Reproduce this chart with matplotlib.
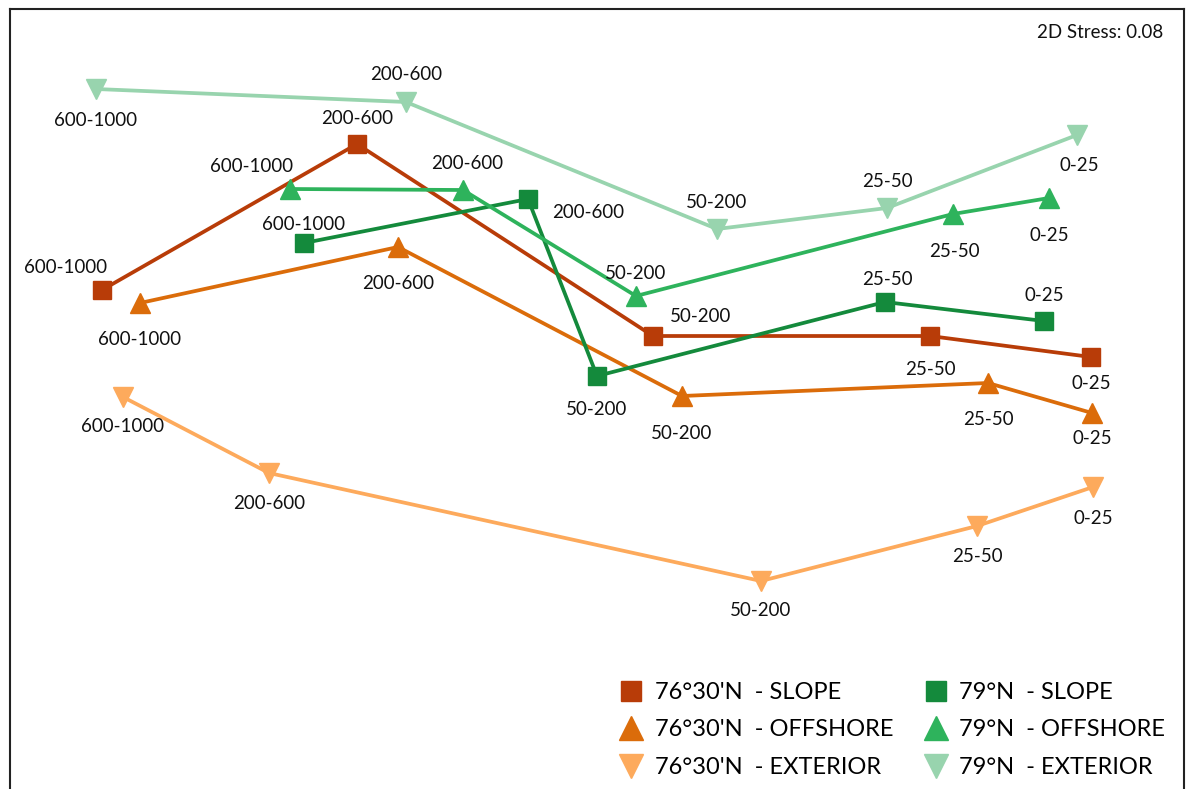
import matplotlib.pyplot as plt
from matplotlib.lines import Line2D

plt.rcParams['font.family'] = ['Lato', 'DejaVu Sans']

# depth classes along each trajectory
depths = ['600-1000', '200-600', '50-200', '25-50', '0-25']

# NMDS coordinates (arbitrary units, y grows downward)
slope76_x = [102, 357, 653, 930, 1091]
slope76_y = [290, 144, 336, 336, 357]
off76_x = [140, 398, 682, 988, 1092]
off76_y = [303, 247, 396, 383, 413]
ext76_x = [123, 269, 761, 977, 1093]
ext76_y = [397, 473, 581, 526, 487]
slope79_x = [304, 528, 597, 885, 1044]
slope79_y = [243, 199, 376, 302, 321]
off79_x = [290, 463, 636, 953, 1049]
off79_y = [189, 190, 296, 214, 198]
ext79_x = [96, 406, 717, 887, 1077]
ext79_y = [89, 102, 229, 208, 135]

series_names = ["76°30'N  - SLOPE", "76°30'N  - OFFSHORE", "76°30'N  - EXTERIOR",
                "79°N  - SLOPE", "79°N  - OFFSHORE", "79°N  - EXTERIOR"]

stress = 0.08

# styles
colors = ['#B83C08', '#DB6C0A', '#FDAA5C', '#148A3C', '#2EB35C', '#98D4AE']
markers = ['s', '^', 'v', 's', '^', 'v']
msizes = [13, 15, 15, 13, 15, 15]

# label offsets (points) per point, to sit like the original
label_off = [
    [(-26, 16), (0, 18), (34, 14), (0, -24), (0, -19)],
    [(0, -26), (0, -26), (0, -27), (0, -26), (0, -18)],
    [(0, -21), (0, -22), (0, -21), (0, -22), (0, -23)],
    [(0, 13), (43, -10), (0, -24), (2, 16), (0, 18)],
    [(-28, 16), (3, 19), (0, 16), (1, -27), (0, -27)],
    [(0, -23), (0, 20), (0, 19), (0, 19), (2, -22)],
]

xs = [slope76_x, off76_x, ext76_x, slope79_x, off79_x, ext79_x]
ys = [slope76_y, off76_y, ext76_y, slope79_y, off79_y, ext79_y]

fig = plt.figure(figsize=(11.91, 7.89), dpi=100)
ax = fig.add_axes([10 / 1191, -20 / 789, 1174 / 1191, 800 / 789])
ax.set_xlim(10, 1184)
ax.set_ylim(809, 9)

handles = []
for i in range(6):
    ax.plot(xs[i], ys[i], color=colors[i], lw=2.7, marker=markers[i],
            ms=msizes[i], mec=colors[i], mfc=colors[i], zorder=3)
    for j, d in enumerate(depths):
        dx, dy = label_off[i][j]
        ax.annotate(d, (xs[i][j], ys[i][j]), xytext=(dx, dy),
                    textcoords='offset points', ha='center', va='center',
                    fontsize=13.5, color='#111111', zorder=4)
    handles.append(Line2D([], [], ls='none', marker=markers[i], ms=msizes[i] + 2,
                          color=colors[i]))

ax.text(0.982, 0.97, f'2D Stress: {stress:.2f}', transform=ax.transAxes,
        ha='right', va='center', fontsize=13.5, color='#111111')

leg = fig.legend(handles, series_names,
                 ncol=2, loc='upper left', bbox_to_anchor=(605 / 1191, 1 - 670 / 789),
                 frameon=False, fontsize=17, handletextpad=0.4,
                 columnspacing=1.2, labelspacing=0.7, borderpad=0, handlelength=1.2)

ax.set_xticks([])
ax.set_yticks([])
for s in ax.spines.values():
    s.set_linewidth(1.5)
    s.set_color('#222222')

fig.savefig('out.png', dpi=100)
